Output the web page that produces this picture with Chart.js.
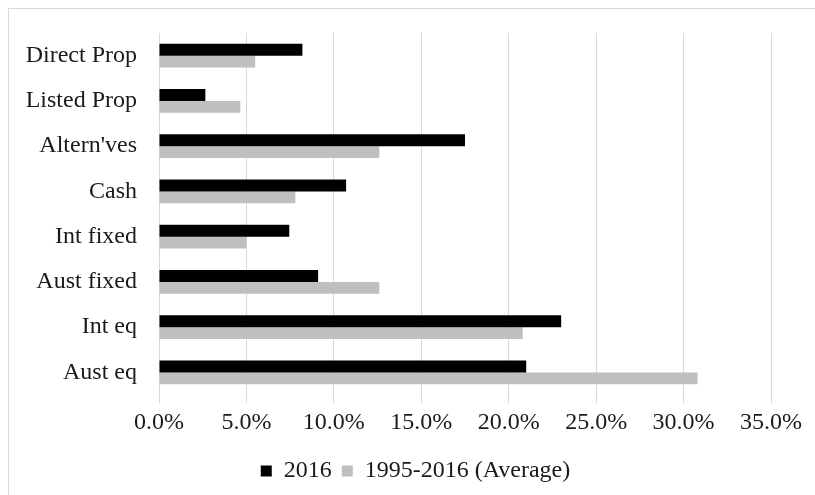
<!DOCTYPE html>
<html>
<head>
<meta charset="utf-8">
<script src="https://cdn.jsdelivr.net/npm/chart.js@4"></script>
<style>
  html, body { margin: 0; padding: 0; background: #fff; overflow: hidden; }
  #wrap { position: relative; width: 815px; height: 495px; }
  #frame { position: absolute; left: 8px; top: 8px; width: 900px; height: 600px; border: 1px solid #d9d9d9; }
  canvas { position: absolute; left: 0; top: 0; }
</style>
</head>
<body>
<div id="wrap">
  <div id="frame"></div>
  <canvas id="bar-chart" width="815" height="495"></canvas>
</div>
<script>
const categories = ['Direct Prop', 'Listed Prop', "Altern'ves", 'Cash', 'Int fixed', 'Aust fixed', 'Int eq', 'Aust eq'];
const values2016 = [8.2, 2.65, 17.5, 10.7, 7.45, 9.1, 23.0, 21.0];
const valuesAvg = [5.5, 4.65, 12.6, 7.8, 5.0, 12.6, 20.8, 30.8];
const seriesNames = ['2016', '1995-2016 (Average)'];

const textColor = '#1a1a1a';
const fontFamily = '"Liberation Serif", "Times New Roman", serif';

// Excel centres the legend a bit right of the plot centre, nudge it over
const legendShift = {
    id: 'legendShift',
    afterLayout(chart) {
        chart.legend.left += 30;
        chart.legend.right += 30;
    }
};

const ctx = document.querySelector('#bar-chart').getContext('2d');
const myChart = new Chart(ctx, {
    type: 'bar',
    data: {
        labels: categories,
        datasets: [
            {
                label: seriesNames[0],
                data: values2016,
                backgroundColor: '#000000',
                borderWidth: 0
            },
            {
                label: seriesNames[1],
                data: valuesAvg,
                backgroundColor: '#bfbfbf',
                borderWidth: 0
            }
        ]
    },
    plugins: [legendShift],
    options: {
        indexAxis: 'y',
        responsive: false,
        animation: false,
        categoryPercentage: 0.53,
        barPercentage: 1.0,
        layout: {
            padding: { top: 33, right: 44, left: 0, bottom: 2 }
        },
        plugins: {
            tooltip: { enabled: false },
            legend: {
                position: 'bottom',
                labels: {
                    color: textColor,
                    boxWidth: 11,
                    boxHeight: 11,
                    padding: 10,
                    font: { family: fontFamily, size: 24 }
                }
            }
        },
        scales: {
            x: {
                min: 0,
                max: 35,
                afterFit: (scale) => { scale.height = 54; },
                grid: {
                    color: '#d9d9d9',
                    lineWidth: 1,
                    tickLength: 8,
                    drawTicks: true
                },
                border: { display: false },
                ticks: {
                    stepSize: 5,
                    padding: 5,
                    color: textColor,
                    font: { family: fontFamily, size: 24 },
                    callback: (v) => Number(v).toFixed(1) + '%'
                }
            },
            y: {
                afterFit: (scale) => { scale.width = 159; },
                grid: { display: false },
                border: { display: false },
                ticks: {
                    padding: 14,
                    color: textColor,
                    font: { family: fontFamily, size: 24 }
                }
            }
        }
    }
});
</script>
</body>
</html>
